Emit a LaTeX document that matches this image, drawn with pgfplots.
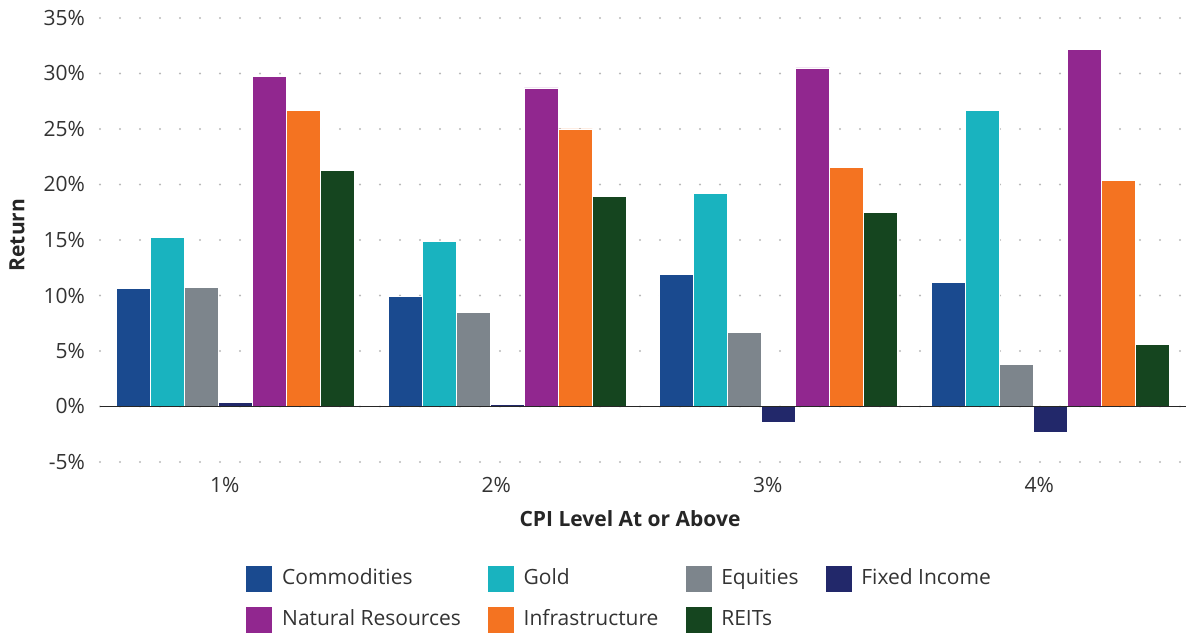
\documentclass[border=0pt]{standalone}
\usepackage{fontspec}
\setmainfont{Open Sans}
\usepackage{pgfplots}
\pgfplotsset{compat=1.18}

\definecolor{comm}{HTML}{1A4A8F}
\definecolor{gold}{HTML}{19B3BF}
\definecolor{equi}{HTML}{7D858C}
\definecolor{fixd}{HTML}{22286A}
\definecolor{natr}{HTML}{91278F}
\definecolor{infr}{HTML}{F47321}
\definecolor{reit}{HTML}{15451F}
\definecolor{txt}{HTML}{333333}

\begin{document}
\begin{tikzpicture}
\begin{axis}[
    name=ax,
    scale only axis, width=543pt, height=222pt,
    font=\fontsize{10.5}{12}\selectfont,
    ybar=0pt, bar width=17pt,
    xmin=-0.5, xmax=3.5, ymin=-5, ymax=35,
    axis line style={draw=none},
    xtick={0,1,2,3}, xticklabels={1\%,2\%,3\%,4\%},
    ytick={-5,0,5,10,15,20,25,30,35},
    yticklabels={-5\%,0\%,5\%,10\%,15\%,20\%,25\%,30\%,35\%},
    major tick length=0pt,
    ymajorgrids,
    major grid style={gray!55, line width=1.1pt, line cap=round, dash pattern=on 0pt off 10pt},
    yticklabel style={text=txt, xshift=-4pt},
    xticklabel style={text=txt, xshift=-5.5pt, yshift=-4pt},
    xlabel={\bfseries CPI Level At or Above},
    ylabel={\bfseries Return},
    xlabel style={at={(axis description cs:0.488,-0.128)}, anchor=center, text=black!85},
    ylabel style={at={(axis description cs:-0.0764,0.511)}, anchor=center, text=black!85},
    every axis plot/.append style={draw=white, line width=0.4pt},
    legend columns=4,
    legend cell align=left,
    legend image code/.code={\fill[#1] (0pt,-6.75pt) rectangle (13.5pt,6.75pt); \path (16pt,0pt);},
    legend style={at={(axis description cs:0.1335,-0.232)}, anchor=north west,
        draw=none, fill=none, inner sep=0pt, row sep=6.5pt,
        font=\fontsize{10.5}{12}\selectfont,
        nodes={text=txt, text height=7.5pt, text depth=2pt, inner ysep=0pt, inner xsep=2pt},
        /tikz/every even column/.append style={column sep=11pt},
        /tikz/column 6/.append style={column sep=18pt}},
]
\addplot[fill=comm] coordinates {(0,10.6)(1,9.9)(2,11.9)(3,11.2)};
\addlegendentry{Commodities}
\addplot[fill=gold] coordinates {(0,15.2)(1,14.9)(2,19.2)(3,26.7)};
\addlegendentry{Gold}
\addplot[fill=equi] coordinates {(0,10.7)(1,8.5)(2,6.7)(3,3.8)};
\addlegendentry{Equities}
\addplot[fill=fixd] coordinates {(0,0.4)(1,0.2)(2,-1.4)(3,-2.3)};
\addlegendentry{Fixed Income}
\addplot[fill=natr] coordinates {(0,29.7)(1,28.7)(2,30.5)(3,32.2)};
\addlegendentry{Natural Resources}
\addplot[fill=infr] coordinates {(0,26.7)(1,25.0)(2,21.5)(3,20.4)};
\addlegendentry{Infrastructure}
\addplot[fill=reit] coordinates {(0,21.3)(1,18.9)(2,17.5)(3,5.6)};
\addlegendentry{REITs}
% baseline at 0%
\draw[black!85, line width=0.8pt] (axis cs:-0.5,0) -- (axis cs:3.5,0);
\end{axis}
\pgfresetboundingbox
\path ([xshift=-50pt,yshift=-85.5pt]ax.south west) rectangle ([yshift=9pt]ax.north east);
\end{tikzpicture}
\end{document}
